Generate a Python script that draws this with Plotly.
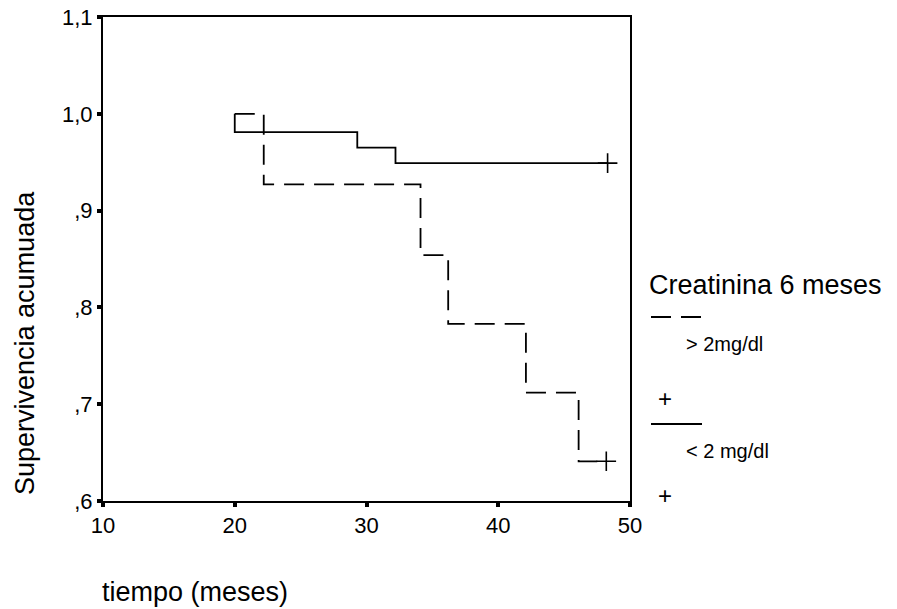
import plotly.graph_objects as go

# Kaplan-Meier step data
t_high = [20, 22.2, 34.1, 36.2, 42.1, 46.1, 48.2]          # > 2mg/dl (dashed)
s_high = [1.0, 0.927, 0.854, 0.783, 0.712, 0.641, 0.641]
t_low = [20, 20, 29.3, 32.2, 48.3]                          # < 2 mg/dl (solid)
s_low = [1.0, 0.981, 0.965, 0.949, 0.949]

x_ticks = [10, 20, 30, 40, 50]
y_ticks = [0.6, 0.7, 0.8, 0.9, 1.0, 1.1]
y_ticktext = [",6", ",7", ",8", ",9", "1,0", "1,1"]

FONT = "Arial, Liberation Sans, sans-serif"
LINE_W = 1.8

W, H = 897, 609
ML, MR, MT, MB = 103, 267, 17, 108
PW, PH = W - ML - MR, H - MT - MB

fig = go.Figure()
fig.add_trace(go.Scatter(x=t_high, y=s_high, mode="lines", line_shape="hv",
                         line=dict(color="black", width=LINE_W, dash="20px,10px"),
                         showlegend=False, hoverinfo="skip"))
fig.add_trace(go.Scatter(x=t_low, y=s_low, mode="lines", line_shape="hv",
                         line=dict(color="black", width=LINE_W),
                         showlegend=False, hoverinfo="skip"))
# censor marks at the last point
fig.add_trace(go.Scatter(x=[t_high[-1], t_low[-1]], y=[s_high[-1], s_low[-1]], mode="markers",
                         marker=dict(symbol="cross-thin", size=14, line=dict(color="black", width=1.6)),
                         showlegend=False, hoverinfo="skip"))

fig.update_layout(
    width=W, height=H,
    margin=dict(l=ML, r=MR, t=MT, b=MB, autoexpand=False),
    paper_bgcolor="white", plot_bgcolor="white",
    font=dict(family=FONT, color="black", size=22),
    xaxis=dict(range=[10, 50], tickvals=x_ticks, ticktext=[str(v) for v in x_ticks],
               showgrid=False, zeroline=False, showline=True, linecolor="black", linewidth=2,
               mirror=True, ticks="outside", ticklen=4, tickwidth=4, tickcolor="black",
               automargin=False, tickfont=dict(size=22, family=FONT)),
    yaxis=dict(range=[0.6, 1.1], tickvals=y_ticks, ticktext=y_ticktext,
               showgrid=False, zeroline=False, showline=True, linecolor="black", linewidth=2,
               mirror=True, ticks="outside", ticklen=4, tickwidth=4, tickcolor="black",
               automargin=False, tickfont=dict(size=22, family=FONT)),
)

def px_x(px):
    return (px - ML) / PW

def px_y(py):
    return (H - MB - py) / PH

ann = [
    dict(text="tiempo (meses)", x=px_x(100), y=px_y(592), xanchor="left", yanchor="middle",
         font=dict(size=27)),
    dict(text="Supervivencia acumuada", x=px_x(25), y=px_y(343), textangle=-90,
         xanchor="center", yanchor="middle", font=dict(size=27)),
    dict(text="Creatinina 6 meses", x=px_x(647), y=px_y(285), xanchor="left", yanchor="middle",
         font=dict(size=27)),
    dict(text="> 2mg/dl", x=px_x(684), y=px_y(344), xanchor="left", yanchor="middle",
         font=dict(size=20)),
    dict(text="< 2 mg/dl", x=px_x(684), y=px_y(451), xanchor="left", yanchor="middle",
         font=dict(size=20)),
    dict(text="+", x=px_x(665), y=px_y(398), xanchor="center", yanchor="middle",
         font=dict(size=24)),
    dict(text="+", x=px_x(665), y=px_y(495), xanchor="center", yanchor="middle",
         font=dict(size=24)),
]
for a in ann:
    a.update(xref="paper", yref="paper", showarrow=False)
    fig.add_annotation(**a)

fig.add_shape(type="line", xref="paper", yref="paper",
              x0=px_x(651), x1=px_x(702), y0=px_y(317), y1=px_y(317),
              line=dict(color="black", width=LINE_W, dash="20px,10px"))
fig.add_shape(type="line", xref="paper", yref="paper",
              x0=px_x(651), x1=px_x(702), y0=px_y(424), y1=px_y(424),
              line=dict(color="black", width=LINE_W))

fig.write_html("out.html")
